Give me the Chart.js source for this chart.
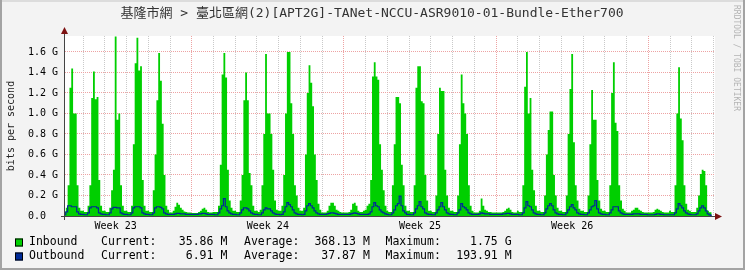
<!DOCTYPE html>
<html>
<head>
<meta charset="utf-8">
<script src="https://cdn.jsdelivr.net/npm/chart.js@4"></script>
<style>
html, body { margin: 0; padding: 0; background: #f3f3f3; }
#wrap { width: 745px; height: 270px; }
</style>
</head>
<body>
<div id="wrap"><canvas id="traffic" width="745" height="270"></canvas></div>
<script>
// one row per day, samples every 2 hours (00, 02, ... 22), values in Gbit/s
const slotHours = [0, 2, 4, 6, 8, 10, 12, 14, 16, 18, 20, 22];

const inbound = [
    [0.04, 0.04, 0.04, 0.08, 0.30, 1.25, 1.44, 1.00, 1.00, 0.30, 0.08, 0.05],
    [0.05, 0.04, 0.04, 0.10, 0.30, 1.15, 1.41, 1.14, 1.16, 0.35, 0.10, 0.05],
    [0.05, 0.04, 0.04, 0.08, 0.25, 0.45, 1.75, 0.94, 1.00, 0.30, 0.10, 0.05],
    [0.05, 0.04, 0.04, 0.10, 0.70, 1.49, 1.74, 1.42, 1.46, 0.35, 0.10, 0.05],
    [0.05, 0.04, 0.04, 0.25, 0.60, 1.13, 1.59, 1.32, 0.90, 0.40, 0.10, 0.06],
    [0.035, 0.035, 0.05, 0.09, 0.13, 0.11, 0.08, 0.06, 0.045, 0.04, 0.035, 0.035],
    [0.03, 0.03, 0.03, 0.03, 0.04, 0.05, 0.07, 0.08, 0.06, 0.04, 0.035, 0.035],
    [0.04, 0.04, 0.04, 0.10, 0.50, 1.38, 1.59, 1.35, 0.45, 0.15, 0.08, 0.05],
    [0.05, 0.04, 0.04, 0.15, 0.40, 1.13, 1.40, 1.13, 0.42, 0.30, 0.10, 0.05],
    [0.05, 0.04, 0.06, 0.30, 0.80, 1.58, 1.00, 1.00, 0.80, 0.45, 0.15, 0.06],
    [0.05, 0.05, 0.10, 0.40, 1.00, 1.60, 1.60, 1.10, 0.80, 0.30, 0.20, 0.08],
    [0.05, 0.05, 0.08, 0.60, 1.20, 1.47, 1.30, 1.07, 0.60, 0.35, 0.12, 0.06],
    [0.035, 0.035, 0.035, 0.05, 0.10, 0.13, 0.13, 0.10, 0.06, 0.05, 0.04, 0.035],
    [0.035, 0.035, 0.035, 0.04, 0.06, 0.12, 0.13, 0.10, 0.05, 0.04, 0.04, 0.05],
    [0.06, 0.10, 0.12, 0.35, 1.36, 1.50, 1.36, 1.33, 0.70, 0.45, 0.25, 0.10],
    [0.05, 0.04, 0.04, 0.30, 0.70, 1.16, 1.16, 1.10, 0.50, 0.30, 0.10, 0.05],
    [0.05, 0.04, 0.04, 0.30, 1.25, 1.46, 1.46, 1.12, 1.10, 0.40, 0.15, 0.05],
    [0.05, 0.04, 0.04, 0.20, 0.80, 1.25, 1.22, 1.22, 0.45, 0.20, 0.08, 0.05],
    [0.05, 0.04, 0.04, 0.20, 0.70, 1.38, 1.10, 1.00, 0.80, 0.30, 0.10, 0.05],
    [0.035, 0.035, 0.035, 0.05, 0.17, 0.10, 0.06, 0.05, 0.04, 0.04, 0.035, 0.035],
    [0.035, 0.035, 0.035, 0.035, 0.04, 0.05, 0.07, 0.08, 0.06, 0.04, 0.035, 0.035],
    [0.05, 0.04, 0.04, 0.30, 1.26, 1.60, 1.00, 1.15, 0.45, 0.25, 0.10, 0.05],
    [0.05, 0.04, 0.04, 0.20, 0.60, 0.84, 1.02, 1.02, 0.40, 0.20, 0.08, 0.05],
    [0.05, 0.04, 0.04, 0.20, 0.80, 1.24, 1.58, 0.72, 0.30, 0.15, 0.07, 0.05],
    [0.05, 0.04, 0.04, 0.20, 0.70, 1.23, 0.94, 0.94, 0.35, 0.15, 0.07, 0.05],
    [0.05, 0.04, 0.04, 0.30, 1.20, 1.50, 0.91, 0.83, 0.30, 0.15, 0.07, 0.05],
    [0.035, 0.035, 0.035, 0.05, 0.06, 0.08, 0.08, 0.06, 0.05, 0.04, 0.035, 0.035],
    [0.035, 0.035, 0.035, 0.04, 0.06, 0.07, 0.06, 0.05, 0.04, 0.035, 0.035, 0.035],
    [0.05, 0.04, 0.04, 0.30, 1.00, 1.45, 0.95, 0.74, 0.30, 0.12, 0.06, 0.05],
    [0.04, 0.04, 0.04, 0.08, 0.20, 0.41, 0.45, 0.44, 0.30, 0.05, 0.036, 0.036]
];

const outbound = [
    [0.015, 0.012, 0.012, 0.04, 0.10, 0.10, 0.09, 0.09, 0.09, 0.04, 0.02, 0.015],
    [0.015, 0.012, 0.012, 0.03, 0.08, 0.09, 0.09, 0.09, 0.08, 0.03, 0.02, 0.015],
    [0.015, 0.012, 0.012, 0.03, 0.07, 0.085, 0.085, 0.08, 0.08, 0.03, 0.02, 0.015],
    [0.015, 0.012, 0.012, 0.03, 0.08, 0.09, 0.09, 0.09, 0.08, 0.03, 0.02, 0.015],
    [0.015, 0.012, 0.012, 0.03, 0.08, 0.09, 0.09, 0.085, 0.07, 0.03, 0.02, 0.015],
    [0.015, 0.015, 0.015, 0.02, 0.025, 0.025, 0.02, 0.02, 0.02, 0.015, 0.015, 0.015],
    [0.015, 0.015, 0.015, 0.015, 0.02, 0.02, 0.025, 0.025, 0.02, 0.015, 0.015, 0.015],
    [0.015, 0.012, 0.012, 0.03, 0.07, 0.10, 0.17, 0.09, 0.05, 0.03, 0.02, 0.015],
    [0.015, 0.012, 0.012, 0.03, 0.06, 0.08, 0.08, 0.07, 0.05, 0.03, 0.02, 0.015],
    [0.015, 0.012, 0.012, 0.03, 0.06, 0.08, 0.07, 0.07, 0.05, 0.03, 0.02, 0.015],
    [0.015, 0.012, 0.015, 0.04, 0.09, 0.13, 0.11, 0.09, 0.06, 0.03, 0.02, 0.015],
    [0.015, 0.012, 0.015, 0.05, 0.10, 0.12, 0.10, 0.08, 0.05, 0.03, 0.02, 0.015],
    [0.015, 0.015, 0.015, 0.02, 0.025, 0.03, 0.03, 0.025, 0.02, 0.015, 0.015, 0.015],
    [0.015, 0.015, 0.015, 0.015, 0.02, 0.025, 0.03, 0.025, 0.02, 0.015, 0.015, 0.015],
    [0.015, 0.015, 0.02, 0.04, 0.09, 0.13, 0.10, 0.09, 0.06, 0.04, 0.03, 0.02],
    [0.015, 0.012, 0.012, 0.03, 0.06, 0.10, 0.12, 0.194, 0.10, 0.05, 0.03, 0.015],
    [0.015, 0.012, 0.012, 0.03, 0.07, 0.10, 0.14, 0.09, 0.07, 0.03, 0.02, 0.015],
    [0.015, 0.012, 0.012, 0.03, 0.06, 0.09, 0.13, 0.09, 0.06, 0.03, 0.02, 0.015],
    [0.015, 0.012, 0.012, 0.03, 0.06, 0.12, 0.09, 0.08, 0.06, 0.03, 0.02, 0.015],
    [0.015, 0.015, 0.015, 0.02, 0.03, 0.025, 0.02, 0.02, 0.02, 0.015, 0.015, 0.015],
    [0.015, 0.015, 0.015, 0.015, 0.02, 0.02, 0.025, 0.025, 0.02, 0.015, 0.015, 0.015],
    [0.015, 0.012, 0.012, 0.03, 0.08, 0.14, 0.10, 0.09, 0.06, 0.03, 0.02, 0.015],
    [0.015, 0.012, 0.012, 0.03, 0.07, 0.10, 0.12, 0.10, 0.06, 0.03, 0.02, 0.015],
    [0.015, 0.012, 0.012, 0.03, 0.06, 0.09, 0.11, 0.08, 0.06, 0.03, 0.02, 0.015],
    [0.015, 0.012, 0.012, 0.03, 0.06, 0.09, 0.10, 0.15, 0.07, 0.03, 0.02, 0.015],
    [0.015, 0.012, 0.012, 0.03, 0.06, 0.09, 0.09, 0.09, 0.05, 0.03, 0.02, 0.015],
    [0.015, 0.015, 0.015, 0.015, 0.02, 0.02, 0.02, 0.02, 0.015, 0.015, 0.015, 0.015],
    [0.012, 0.012, 0.012, 0.012, 0.015, 0.02, 0.02, 0.015, 0.015, 0.012, 0.012, 0.012],
    [0.012, 0.012, 0.012, 0.03, 0.07, 0.12, 0.10, 0.08, 0.05, 0.03, 0.02, 0.015],
    [0.012, 0.012, 0.012, 0.02, 0.05, 0.08, 0.10, 0.08, 0.05, 0.02, 0.01, 0.007]
];

// axis ticks (x in days from the first midnight shown)
const yTicks = [0, 0.1, 0.2, 0.3, 0.4, 0.5, 0.6, 0.7, 0.8, 0.9, 1.0, 1.1, 1.2, 1.3, 1.4, 1.5, 1.6, 1.7];
const dayLines = [1, 2, 3, 4, 5, 6, 7, 8, 9, 10, 11, 12, 13, 14, 15, 16, 17, 18, 19, 20, 21, 22, 23, 24, 25, 26, 27, 28, 29, 30];
const weekStarts = [6, 13, 20, 27];
const weekLabels = ['Week 23', 'Week 24', 'Week 25', 'Week 26'];
const weekLabelAt = [2.5, 9.5, 16.5, 23.5];

// legend texts
const seriesNames = ['Inbound', 'Outbound'];
const seriesCurrent = ['35.86 M', '6.91 M'];
const seriesAverage = ['368.13 M', '37.87 M'];
const seriesMaximum = ['1.75 G', '193.91 M'];

const titleText = '基隆市網 > 臺北區網(2)[APT2G]-TANet-NCCU-ASR9010-01-Bundle-Ether700';

const GREEN = '#00CF00';
const BLUE = '#002A97';
const GRID_MINOR = '#c9c9c9';
const GRID_MAJOR = '#eda3a3';
const MONO = '"DejaVu Sans Mono", monospace';

function toPoints(rows) {
    const pts = [];
    rows.forEach((row, d) => {
        row.forEach((v, k) => pts.push({x: d + slotHours[k] / 24, y: v}));
    });
    return pts;
}

const rrdDecor = {
    id: 'rrdDecor',
    beforeDraw(chart) {
        const {ctx, chartArea: a, width, height} = chart;
        ctx.save();
        ctx.fillStyle = '#f3f3f3';
        ctx.fillRect(0, 0, width, height);
        ctx.fillStyle = '#ffffff';
        ctx.fillRect(a.left, a.top, a.right - a.left, a.bottom - a.top);
        // frame
        ctx.fillStyle = '#dcdcdc';
        ctx.fillRect(0, 0, width, 2);
        ctx.fillStyle = '#a3a3a3';
        ctx.fillRect(0, 0, 2, height);
        ctx.fillRect(0, height - 2, width, 2);
        ctx.fillRect(width - 2, 0, 2, height);
        ctx.restore();
    },
    afterDraw(chart) {
        const {ctx, chartArea: a} = chart;
        ctx.save();

        // axes
        ctx.fillStyle = '#444444';
        ctx.fillRect(a.left - 1, a.top - 3, 1, a.bottom - a.top + 7);
        ctx.fillRect(a.left - 4, a.bottom, a.right - a.left + 4, 1);

        // arrows
        ctx.fillStyle = '#7d1212';
        ctx.beginPath();
        ctx.moveTo(a.left - 0.5, a.top - 9);
        ctx.lineTo(a.left - 4, a.top - 2);
        ctx.lineTo(a.left + 3, a.top - 2);
        ctx.closePath();
        ctx.fill();
        ctx.beginPath();
        ctx.moveTo(a.right + 7, a.bottom + 0.5);
        ctx.lineTo(a.right, a.bottom - 3);
        ctx.lineTo(a.right, a.bottom + 4);
        ctx.closePath();
        ctx.fill();

        // title
        ctx.fillStyle = '#333333';
        ctx.font = '13px "DejaVu Sans Mono", "Noto Sans CJK TC", monospace';
        ctx.textAlign = 'center';
        ctx.textBaseline = 'middle';
        ctx.fillText(titleText, 372, 14);

        // vertical unit label
        ctx.save();
        ctx.translate(11, 126);
        ctx.rotate(-Math.PI / 2);
        ctx.font = '10px ' + MONO;
        ctx.fillStyle = '#222222';
        ctx.fillText('bits per second', 0, 0);
        ctx.restore();

        // watermark
        ctx.save();
        ctx.translate(736, 5);
        ctx.rotate(Math.PI / 2);
        ctx.font = '8px ' + MONO;
        ctx.fillStyle = '#b4b4b4';
        ctx.textAlign = 'left';
        ctx.fillText('RRDTOOL / TOBI OETIKER', 0, 0);
        ctx.restore();

        // legend
        const rowY = [242.5, 256.5];
        const boxColors = [GREEN, BLUE];
        ctx.font = '11.5px ' + MONO;
        ctx.textBaseline = 'middle';
        seriesNames.forEach((name, i) => {
            const y = rowY[i];
            ctx.fillStyle = boxColors[i];
            ctx.fillRect(15, y - 4, 8, 8);
            ctx.strokeStyle = '#000000';
            ctx.lineWidth = 1;
            ctx.strokeRect(15.5, y - 3.5, 7, 7);

            ctx.fillStyle = '#000000';
            ctx.textAlign = 'left';
            ctx.fillText(name, 29, y);
            ctx.fillText('Current:', 101, y);
            ctx.fillText('Average:', 244, y);
            ctx.fillText('Maximum:', 385.5, y);
            ctx.textAlign = 'right';
            ctx.fillText(seriesCurrent[i], 227.3, y);
            ctx.fillText(seriesAverage[i], 369.8, y);
            ctx.fillText(seriesMaximum[i], 511.6, y);
        });
        ctx.restore();
    }
};

Chart.defaults.font.family = MONO;

const chart = new Chart(document.getElementById('traffic'), {
    type: 'line',
    data: {
        datasets: [
            {
                label: 'Inbound',
                data: toPoints(inbound),
                stepped: 'middle',
                fill: 'origin',
                backgroundColor: GREEN,
                borderColor: GREEN,
                borderWidth: 0,
                pointRadius: 0,
                order: 2
            },
            {
                label: 'Outbound',
                data: toPoints(outbound),
                stepped: 'middle',
                fill: false,
                borderColor: BLUE,
                borderWidth: 1.2,
                pointRadius: 0,
                order: 1
            }
        ]
    },
    options: {
        responsive: false,
        animation: false,
        events: [],
        layout: {padding: {left: 0, top: 36, right: 30, bottom: 0}},
        plugins: {legend: {display: false}, tooltip: {enabled: false}},
        scales: {
            x: {
                type: 'linear',
                min: 0.17,
                max: 30.07,
                afterFit: (s) => { s.height = 54; },
                afterBuildTicks: (s) => {
                    s.ticks = dayLines.concat(weekLabelAt).sort((p, q) => p - q).map(v => ({value: v}));
                },
                ticks: {
                    autoSkip: false,
                    maxRotation: 0,
                    minRotation: 0,
                    padding: 4,
                    color: '#000000',
                    font: {size: 10, family: MONO},
                    callback: (v) => {
                        const i = weekLabelAt.indexOf(v);
                        return i >= 0 ? weekLabels[i] : '';
                    }
                },
                grid: {
                    drawTicks: false,
                    lineWidth: 1,
                    color: (c) => {
                        if (!c.tick || !Number.isInteger(c.tick.value)) return 'rgba(0,0,0,0)';
                        return weekStarts.includes(c.tick.value) ? GRID_MAJOR : GRID_MINOR;
                    }
                },
                border: {display: false, dash: [1, 1]}
            },
            y: {
                min: 0,
                max: 1.756,
                afterFit: (s) => { s.width = 65; },
                afterBuildTicks: (s) => {
                    s.ticks = yTicks.map(v => ({value: v}));
                },
                ticks: {
                    padding: 7,
                    color: '#000000',
                    font: {size: 10, family: MONO},
                    callback: (v) => {
                        const t = Math.round(v * 10);
                        if (t % 2) return '';
                        return t === 0 ? '0.0  ' : (t / 10).toFixed(1) + ' G';
                    }
                },
                grid: {
                    drawTicks: false,
                    lineWidth: 1,
                    color: (c) => {
                        if (!c.tick) return 'rgba(0,0,0,0)';
                        const t = Math.round(c.tick.value * 10);
                        if (t === 0) return 'rgba(0,0,0,0)';
                        return t % 2 ? GRID_MINOR : GRID_MAJOR;
                    }
                },
                border: {display: false, dash: [1, 1]}
            }
        }
    },
    plugins: [rrdDecor]
});
</script>
</body>
</html>
